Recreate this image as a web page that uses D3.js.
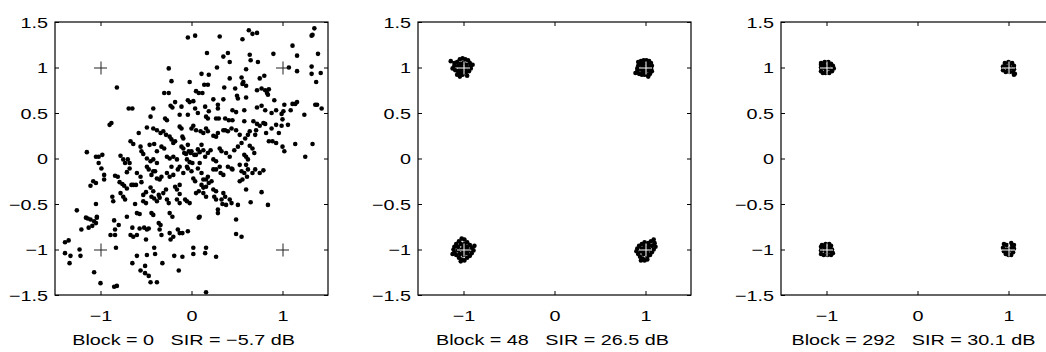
<!DOCTYPE html>
<html>
<head>
<meta charset="utf-8">
<script src="https://cdn.jsdelivr.net/npm/d3@7"></script>
<style>
  body { margin: 0; background: #fff; }
  svg { display: block; }
  text { font-family: "Liberation Sans", Arial, Helvetica, sans-serif; fill: #000; white-space: pre; }
</style>
</head>
<body>
<svg id="chart" width="1046" height="352"></svg>
<script>
// reference constellation (QPSK)
var refPoints = [[-1, 1], [1, 1], [-1, -1], [1, -1]];
var ticksX = [-1, 0, 1];
var ticksY = [-1.5, -1, -0.5, 0, 0.5, 1, 1.5];
var captions = ["Block = 0   SIR = \u22125.7 dB", "Block = 48   SIR = 26.5 dB", "Block = 292   SIR = 30.1 dB"];

// block 0 : mixed signals, before separation
var block0 = [
  [-0.04,1.33],[0.04,1.35],[0.31,1.34],[0.63,1.41],[0.67,1.37],[0.72,1.38],[1.35,1.43],[1.33,1.36],[1.32,1.35],
  [0.56,1.31],[0.17,1.16],[0.35,1.12],[0.40,1.16],[0.42,1.06],[0.64,1.14],[0.65,1.08],[0.73,1.06],[1.11,1.24],
  [0.90,1.15],[1.16,1.13],[1.39,1.15],[1.32,1.01],[1.42,0.94],[1.32,0.93],[1.07,1.0],[1.16,0.96],[-0.25,0.99],
  [0.28,1.0],[0.60,0.98],[0.19,0.92],[0.11,0.93],[0.42,0.88],[0.55,0.89],[0.75,0.88],[0.80,0.91],[1.37,0.84],
  [-0.22,0.85],[-0.02,0.84],[-0.82,0.78],[0.14,0.81],[0.18,0.81],[0.05,0.74],[0.08,0.72],[0.12,0.72],[0.36,0.78],
  [0.48,0.77],[0.60,0.80],[0.57,0.84],[0.56,0.82],[0.72,0.75],[0.77,0.77],[0.81,0.75],[0.85,0.76],[-0.30,0.72],
  [-0.25,0.72],[-0.18,0.62],[-0.04,0.64],[-0.02,0.62],[0.02,0.63],[0.24,0.65],[0.35,0.65],[0.50,0.69],[0.51,0.66],
  [0.60,0.67],[0.83,0.72],[0.84,0.70],[0.91,0.64],[1.11,0.60],[1.14,0.60],[1.16,0.62],[1.36,0.59],[1.38,0.59],
  [1.43,0.55],[1.02,0.59],[1.01,0.52],[1.09,0.53],[1.24,0.48],[-0.69,0.55],[-0.65,0.55],[-0.42,0.55],[-0.23,0.58],
  [-0.21,0.56],[-0.11,0.57],[0.04,0.55],[0.07,0.50],[0.15,0.57],[0.19,0.52],[0.29,0.59],[0.29,0.55],[0.45,0.53],
  [0.49,0.51],[0.58,0.53],[0.72,0.56],[0.77,0.58],[0.81,0.53],[0.93,0.53],[0.99,0.49],[0.88,0.50],[-0.45,0.46],
  [-0.29,0.44],[-0.27,0.42],[-0.13,0.48],[-0.04,0.48],[0.16,0.46],[0.18,0.44],[0.27,0.44],[0.30,0.44],[0.37,0.44],
  [0.41,0.42],[0.45,0.42],[0.58,0.41],[0.68,0.41],[0.72,0.38],[0.75,0.36],[0.79,0.39],[0.81,0.38],[1.0,0.43],
  [0.93,0.37],[0.99,0.36],[1.06,0.37],[-0.90,0.37],[-0.88,0.39],[-0.49,0.34],[-0.58,0.28],[-0.67,0.19],[-0.64,0.16],
  [-0.42,0.33],[-0.38,0.31],[-0.34,0.28],[-0.31,0.30],[-0.28,0.26],[-0.24,0.24],[-0.22,0.21],[-0.20,0.17],[-0.18,0.19],
  [-0.13,0.35],[-0.11,0.33],[-0.10,0.24],[-0.09,0.22],[0,0.33],[0.02,0.36],[0.05,0.31],[0.10,0.30],[0.13,0.28],
  [0.16,0.33],[0.18,0.30],[0.24,0.25],[0.27,0.24],[0.29,0.28],[0.35,0.31],[0.37,0.31],[0.40,0.30],[0.44,0.33],
  [0.49,0.31],[0.53,0.26],[0.59,0.22],[0.62,0.26],[0.64,0.30],[0.70,0.26],[0.71,0.31],[0.82,0.28],[0.88,0.33],
  [0.85,0.19],[0.89,0.19],[0.93,0.17],[0.96,0.28],[1.0,0.13],[1.14,0.16],[1.33,0.16],[1.02,0.08],[1.25,0.02],
  [-1.15,0.07],[-1.05,0.02],[-1.02,0.02],[-0.98,0.04],[-1.02,-0.05],[-0.99,-0.11],[-0.78,0.03],[-0.75,-0.01],[-0.73,-0.05],
  [-0.70,-0.01],[-0.68,-0.05],[-0.56,0.13],[-0.55,0.08],[-0.46,0.15],[-0.41,0.16],[-0.38,0.08],[-0.53,0.05],[-0.49,0.0],
  [-0.45,-0.03],[-0.42,-0.01],[-0.38,-0.05],[-0.33,0.13],[-0.30,0.11],[-0.27,0.02],[-0.24,0.0],[-0.22,-0.09],[-0.11,0.13],
  [-0.09,0.11],[-0.08,0.06],[-0.06,0.05],[-0.04,0.15],[-0.03,0.08],[-0.01,0.06],[0.0,0.08],[0.03,0.04],[0.05,0.04],
  [0.07,0.10],[0.09,0.07],[0.11,0.15],[0.13,0.09],[0.15,0.02],[0.18,0.06],[0.21,0.09],[0.24,-0.01],[0.27,-0.03],
  [0.31,0.11],[0.33,0.08],[0.38,0.06],[0.42,0.02],[0.47,0.09],[0.51,0.13],[0.55,0.17],[0.58,0.04],[0.60,0.02],
  [0.62,-0.01],[0.64,0.14],[0.67,0.11],[0.69,0.06],[-0.05,-0.01],[-0.02,-0.04],[0.01,-0.05],[-0.20,0.02],[-0.16,-0.01],
  [-1.11,-0.30],[-1.08,-0.25],[-1.05,-0.27],[-0.96,-0.18],[-0.96,-0.23],[-0.84,-0.19],[-0.81,-0.20],[-0.79,-0.26],
  [-0.76,-0.28],[-0.74,-0.30],[-0.71,-0.33],[-0.71,-0.15],[-0.68,-0.11],[-0.66,-0.29],[-0.64,-0.29],[-0.60,-0.16],
  [-0.56,-0.20],[-0.55,-0.26],[-0.61,-0.29],[-0.49,-0.09],[-0.47,-0.12],[-0.44,-0.18],[-0.42,-0.14],[-0.40,-0.14],
  [-0.38,-0.22],[-0.35,-0.23],[-0.33,-0.20],[-0.27,-0.16],[-0.24,-0.20],[-0.20,-0.18],[-0.15,-0.12],[-0.13,-0.09],
  [-0.09,-0.16],[-0.05,-0.09],[-0.04,-0.11],[0,-0.14],[0.02,-0.22],[0.04,-0.25],[0.07,-0.11],[0.09,-0.05],[0.11,-0.16],
  [0.13,-0.23],[0.16,-0.23],[0.18,-0.20],[0.24,-0.12],[0.27,-0.12],[0.31,-0.09],[0.32,-0.16],[0.35,-0.18],[0.40,-0.09],
  [0.44,-0.11],[0.45,-0.12],[0.53,-0.07],[0.55,-0.14],[0.58,-0.16],[0.60,-0.07],[0.62,-0.12],[0.61,-0.20],[0.67,-0.16],
  [0.70,-0.12],[0.75,-0.16],[0.79,-0.13],[0.56,-0.23],[0.53,-0.25],[-1.26,-0.57],[-1.21,-0.78],[-1.16,-0.65],[-1.14,-0.66],
  [-1.11,-0.67],[-1.07,-0.69],[-1.04,-0.65],[-1.13,-0.76],[-1.09,-0.74],[-1.05,-0.71],[-1.04,-0.64],[-1.05,-0.50],
  [-1.39,-0.92],[-1.35,-0.90],[-1.39,-1.04],[-1.33,-1.07],[-1.34,-1.15],[-1.23,-1.0],[-1.22,-1.07],[-1.07,-1.25],
  [-1.0,-1.37],[-0.89,-0.84],[-0.84,-0.84],[-0.83,-0.98],[-0.85,-1.41],[-0.82,-1.40],[-0.85,-0.68],[-0.80,-0.73],
  [-0.84,-0.78],[-0.87,-0.42],[-0.86,-0.47],[-0.78,-0.38],[-0.75,-0.42],[-0.73,-0.45],[-0.71,-0.64],[-0.67,-0.84],
  [-0.64,-0.86],[-0.65,-0.76],[-0.65,-1.15],[-0.60,-1.07],[-0.60,-0.60],[-0.57,-0.61],[-0.62,-0.50],[-0.57,-0.77],
  [-0.60,-0.84],[-0.56,-1.23],[-0.53,-0.40],[-0.50,-0.37],[-0.53,-0.47],[-0.50,-0.49],[-0.52,-0.76],[-0.49,-0.78],
  [-0.47,-0.77],[-0.50,-0.89],[-0.51,-1.26],[-0.49,-1.06],[-0.51,-1.18],[-0.47,-1.29],[-0.45,-1.36],[-0.38,-1.36],
  [-0.45,-0.32],[-0.42,-0.36],[-0.44,-0.60],[-0.42,-0.62],[-0.41,-0.44],[-0.38,-0.47],[-0.36,-0.40],[-0.35,-0.43],
  [-0.40,-1.05],[-0.41,-0.98],[-0.36,-0.71],[-0.34,-0.73],[-0.35,-0.78],[-0.33,-0.84],[-0.32,-1.15],[-0.31,-0.38],
  [-0.28,-0.34],[-0.27,-0.45],[-0.25,-0.49],[-0.24,-0.60],[-0.21,-0.64],[-0.24,-0.82],[-0.23,-0.89],[-0.20,-0.86],
  [-0.19,-1.07],[-0.18,-0.31],[-0.16,-0.34],[-0.13,-0.39],[-0.16,-0.45],[-0.13,-0.49],[-0.15,-0.78],[-0.13,-0.82],
  [-0.10,-0.82],[-0.14,-1.23],[-0.10,-1.08],[-0.07,-0.45],[-0.05,-0.47],[-0.04,-0.80],[-0.02,-0.49],[0.02,-0.98],
  [0.02,-1.05],[0.05,-0.38],[0.08,-0.36],[0.11,-0.29],[0.13,-0.32],[0.16,-0.31],[0.13,-0.38],[0.16,-0.42],[0.09,-0.64],
  [0.08,-0.65],[0.15,-1.04],[0.16,-0.98],[0.16,-1.47],[0.19,-0.27],[0.22,-0.25],[0.24,-0.34],[0.27,-0.36],[0.25,-0.42],
  [0.27,-0.45],[0.29,-0.56],[0.29,-0.60],[0.27,-1.08],[0.33,-0.45],[0.35,-0.38],[0.37,-0.42],[0.34,-0.50],[0.38,-0.51],
  [0.42,-0.45],[0.44,-0.49],[0.49,-0.67],[0.49,-0.83],[0.55,-0.86],[0.51,-0.51],[0.60,-0.34],[0.65,-0.48],[0.77,-0.37],
  [0.84,-0.51],[-0.13,-0.29],[-0.44,-0.42]
];

// block 48
var block48 = [
  [-1.14,1.07],[-1.10,1.05],[-1.07,1.06],[-1.04,1.09],[-1.01,1.10],[-0.98,1.09],[-0.95,1.08],[-0.93,1.05],[-0.92,1.02],
  [-0.92,0.99],[-0.94,0.96],[-0.97,0.95],[-1.00,0.94],[-1.03,0.95],[-1.06,0.96],[-1.09,0.97],[-1.12,0.99],[-1.10,1.02],
  [-1.06,1.02],[-1.03,1.04],[-1.00,1.05],[-0.97,1.03],[-0.95,1.00],[-0.98,0.99],[-1.01,0.98],[-1.04,0.99],[-1.07,0.92],
  [-1.04,0.90],[-1.01,0.92],[-0.96,0.91],[-1.02,1.01],[-1.05,0.93],[-0.90,1.03],
  [0.92,1.06],[0.95,1.07],[0.98,1.08],[1.01,1.08],[1.04,1.07],[1.06,1.05],[1.07,1.02],[1.06,0.99],[1.07,0.96],
  [1.05,0.93],[1.02,0.92],[0.99,0.92],[0.96,0.92],[0.93,0.93],[0.91,0.96],[0.91,0.99],[0.92,1.02],[0.95,1.03],
  [0.98,1.04],[1.02,1.04],[1.04,1.01],[1.03,0.97],[1.00,0.96],[0.97,0.96],[0.95,0.98],[0.97,1.00],[1.00,1.00],
  [0.89,0.94],[1.03,0.90],
  [-1.02,-0.88],[-0.99,-0.89],[-1.05,-0.91],[-0.96,-0.92],[-1.08,-0.94],[-0.93,-0.95],[-1.10,-0.97],[-0.91,-0.98],
  [-1.11,-1.00],[-0.89,-1.01],[-1.10,-1.03],[-0.91,-1.04],[-1.08,-1.06],[-0.93,-1.07],[-1.05,-1.09],[-0.96,-1.09],
  [-1.02,-1.11],[-0.99,-1.12],[-1.03,-1.13],[-1.06,-0.97],[-1.03,-0.94],[-0.99,-0.94],[-0.96,-0.97],[-0.95,-1.01],
  [-0.96,-1.04],[-1.00,-1.06],[-1.04,-1.05],[-1.06,-1.01],[-1.02,-1.00],[-0.98,-1.00],[-1.00,-0.97],[-1.00,-1.03],
  [-0.88,-0.96],[-1.12,-1.05],
  [1.09,-0.89],[1.06,-0.91],[1.10,-0.93],[1.03,-0.93],[0.99,-0.92],[0.96,-0.94],[1.07,-0.96],[1.11,-0.97],[0.93,-0.96],
  [0.91,-0.99],[1.09,-1.00],[0.90,-1.02],[1.07,-1.03],[0.92,-1.05],[1.05,-1.06],[0.94,-1.08],[1.02,-1.08],[0.97,-1.10],
  [0.99,-1.12],[1.02,-1.11],[1.03,-0.97],[0.99,-0.96],[0.96,-0.99],[0.95,-1.02],[0.98,-1.05],[1.02,-1.04],[1.04,-1.00],
  [1.00,-1.00],[0.98,-1.01],[1.01,-0.98],[0.95,-1.12]
];

// block 292
var block292 = [
  [-1.06,1.05],[-1.02,1.06],[-0.98,1.06],[-0.95,1.04],[-0.93,1.02],[-0.92,0.99],[-0.94,0.96],[-0.97,0.94],[-1.01,0.94],
  [-1.04,0.94],[-1.06,0.96],[-1.06,1.00],[-1.06,1.03],[-1.02,1.02],[-0.98,1.02],[-0.97,0.99],[-1.01,0.98],[-1.03,1.00],
  [0.96,1.05],[1.00,1.06],[1.04,1.05],[1.06,1.02],[1.06,0.98],[1.05,0.95],[1.07,0.93],[1.06,0.92],[1.01,0.95],
  [0.97,0.95],[0.94,0.97],[0.94,1.01],[0.98,1.01],[1.01,1.02],[1.02,0.99],[0.99,0.99],
  [-1.05,-0.95],[-1.01,-0.94],[-0.97,-0.94],[-0.95,-0.96],[-0.94,-1.00],[-0.93,-1.04],[-0.95,-1.06],[-0.99,-1.06],
  [-1.03,-1.06],[-1.06,-1.05],[-1.06,-1.01],[-1.06,-0.97],[-1.02,-0.98],[-0.98,-0.98],[-0.97,-1.02],[-1.01,-1.02],
  [0.95,-0.94],[0.98,-0.95],[1.03,-0.93],[1.06,-0.95],[0.94,-0.98],[1.06,-0.99],[0.95,-1.02],[1.05,-1.03],[0.97,-1.05],
  [1.03,-1.06],[1.00,-1.02],[0.98,-1.00],[1.02,-0.99],[1.00,-1.06],[1.04,-0.95]
];

var blocks = [block0, block48, block292];

var svg = d3.select('#chart');
var panelLeft = [55, 418, 781];
var plotTop = 22, size = 273;
var stretch = 1.32;          // text in the source is stretched sideways
var captionShift = [-8, -2, -4];

blocks.forEach(function (pts, i) {
  var g = svg.append('g').attr('transform', 'translate(' + panelLeft[i] + ',' + plotTop + ')');

  var x = d3.scaleLinear().domain([-1.5, 1.5]).range([0, size]);
  var y = d3.scaleLinear().domain([-1.5, 1.5]).range([size, 0]);

  // dots
  g.append('g').selectAll('circle')
    .data(pts).enter().append('circle')
    .attr('cx', function (d) { return x(d[0]); })
    .attr('cy', function (d) { return y(d[1]); })
    .attr('r', 2.3)
    .attr('fill', '#000');

  // reference crosses
  var crossColor = i === 0 ? '#222' : '#fff';
  var cross = g.append('g').selectAll('g').data(refPoints).enter().append('g')
    .attr('transform', function (d) { return 'translate(' + x(d[0]) + ',' + y(d[1]) + ')'; });
  cross.append('line').attr('x1', -6.5).attr('x2', 6.5).attr('y1', 0.5).attr('y2', 0.5)
    .attr('stroke', crossColor).attr('stroke-width', 1);
  cross.append('line').attr('x1', 0.5).attr('x2', 0.5).attr('y1', -6).attr('y2', 7)
    .attr('stroke', crossColor).attr('stroke-width', 1);

  var fmt = function (d) { return d3.format('')(d).replace('-', '\u2212'); };

  // axes, matlab style: ticks pointing inward on all four sides
  var axB = g.append('g').attr('transform', 'translate(0,' + size + ')')
    .call(d3.axisBottom(x).tickValues(ticksX).tickSizeInner(-4).tickSizeOuter(0).tickFormat(fmt));
  var axT = g.append('g')
    .call(d3.axisTop(x).tickValues(ticksX).tickSizeInner(-4).tickSizeOuter(0).tickFormat(''));
  var axL = g.append('g')
    .call(d3.axisLeft(y).tickValues(ticksY).tickSizeInner(-4).tickSizeOuter(0).tickFormat(fmt));
  var axR = g.append('g').attr('transform', 'translate(' + size + ',0)')
    .call(d3.axisRight(y).tickValues(ticksY).tickSizeInner(-4).tickSizeOuter(0).tickFormat(''));

  [axB, axT, axL, axR].forEach(function (a) {
    a.select('.domain').remove();
    a.selectAll('line').attr('stroke', '#000');
    a.selectAll('text').style('font-size', '15px').attr('fill', '#000')
      .attr('transform', 'scale(' + stretch + ',1)');
  });
  axB.selectAll('text').attr('dy', null).attr('y', 26);
  axL.selectAll('text').attr('x', -7 / stretch).attr('dy', '0.34em');

  // frame
  g.append('rect').attr('x', 0).attr('y', 0).attr('width', size).attr('height', size)
    .attr('fill', 'none').attr('stroke', '#000').attr('stroke-width', 1.2);

  g.append('g')
    .attr('transform', 'translate(' + (size / 2 + captionShift[i]) + ',' + (size + 50) + ') scale(' + stretch + ',1)')
    .append('text')
    .attr('text-anchor', 'middle')
    .style('font-size', '15px')
    .text(captions[i]);
});
</script>
</body>
</html>
